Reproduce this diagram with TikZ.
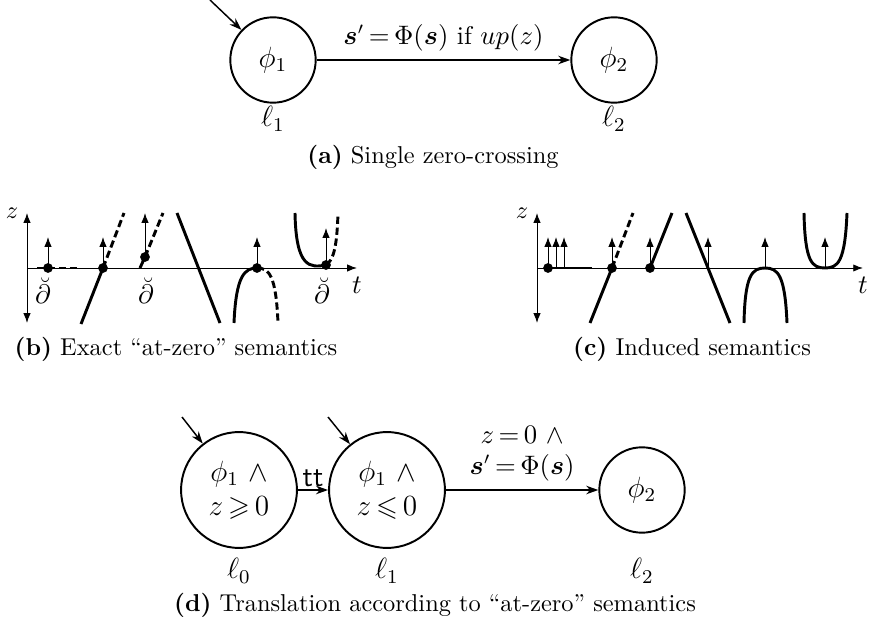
\documentclass[tikz,border=0pt]{standalone}
\usepackage{amsmath}
\usepackage{amssymb}
\usepackage{tikz}
\usetikzlibrary{arrows.meta, positioning}

\begin{document}
\begin{tikzpicture}[x=0.41pt, y=-0.41pt,
    state/.style={circle, draw, line width=0.8pt, minimum size=35pt, inner sep=0pt, font=\large},
    bigstate/.style={state, minimum size=47.5pt, align=center, font=\fontsize{11.5}{13}\selectfont},
    loc/.style={font=\large},
    lbl/.style={font=\fontsize{10.5}{12.5}\selectfont},
    edge/.style={-{Stealth[length=5pt, width=3.5pt]}, line width=0.6pt},
    curve/.style={line width=1.2pt},
    dcurve/.style={curve, dash pattern=on 3pt off 1.5pt},
    axis/.style={line width=0.4pt},
    up/.style={-{Latex[length=4pt, width=3pt]}, line width=0.4pt}]
    \useasboundingbox (0,0) rectangle (870,627);

    % (a) single zero-crossing
    \node[state] (a1) at (273,60) {$\phi_1$};
    \node[state] (a2) at (614,60) {$\phi_2$};
    \coordinate (a1in) at (210,0);
    \draw[edge] (a1in) -- (a1);
    \draw[edge] (a1) -- node[above, lbl] {$\boldsymbol{s}'\,{=}\,\Phi(\boldsymbol{s})$ if $up(z)$} (a2);
    \node[loc] (a1lab) at (273,119) {$\ell_1$};
    \node[loc] (a2lab) at (614,119) {$\ell_2$};
    \node (capa) at (433,157) {\textbf{(a)} Single zero-crossing};

    % (b) exact semantics
    \draw[axis, {Latex[length=4pt, width=3pt]}-{Latex[length=4pt, width=3pt]}] (27,323) -- (27,213) node[left] {$z$};
    \draw[axis, -{Latex[length=4pt, width=3pt]}] (27,268) -- (357,268) node[below, lbl] {$t$};
    \draw[dcurve] (37,268) -- (80,268);
    \fill (48,268) circle (2pt);
    \draw[up] (48,268) -- (48,237);
    \node[lbl] at (43,291) {$\breve{\partial}$};
    \draw[curve] (81,324) -- (103,268);
    \draw[dcurve] (103,268) -- (124,213);
    \fill (103,268) circle (2pt);
    \draw[up] (103,268) -- (103,237);
    \draw[curve] (140,268) -- (145,257);
    \draw[dcurve] (145,257) -- (163,213);
    \fill (145,257) circle (2pt);
    \draw[up] (145,257) -- (145,213);
    \node[lbl] at (146,291) {$\breve{\partial}$};
    \draw[curve] (177,213) -- (220,323);
    \draw[curve] (234,323) .. controls (236,275) and (245,268) .. (257,268);
    \draw[dcurve] (257,268) .. controls (269,268) and (276,275) .. (278,323);
    \fill (257,268) circle (2pt);
    \draw[up] (257,268) -- (257,237);
    \draw[curve] (295,213) .. controls (296,268) and (310,268) .. (326,265);
    \draw[dcurve] (326,265) .. controls (334,260) and (337,245) .. (338,213);
    \fill (326,265) circle (2pt);
    \draw[up] (326,265) -- (326,228);
    \node[lbl] at (322,291) {$\breve{\partial}$};
    \node (capb) at (176,349) {\textbf{(b)} Exact ``at-zero'' semantics};

    % (c) induced semantics
    \draw[axis, {Latex[length=4pt, width=3pt]}-{Latex[length=4pt, width=3pt]}] (537,323) -- (537,213) node[left] {$z$};
    \draw[axis, -{Latex[length=4pt, width=3pt]}] (537,268) -- (863,268) node[below, lbl] {$t$};
    \draw[curve] (548,268) -- (592,268);
    \fill (548,268) circle (2pt);
    \foreach \x in {548,556,564}
        \draw[up] (\x,268) -- (\x,237);
    \draw[curve] (590,323) -- (612,268);
    \draw[dcurve] (612,268) -- (633,213);
    \fill (612,268) circle (2pt);
    \draw[up] (612,268) -- (612,237);
    \draw[curve] (650,268) -- (672,213);
    \fill (650,268) circle (2pt);
    \draw[up] (650,268) -- (650,237);
    \draw[curve] (686,213) -- (730,323);
    \draw[up] (708,268) -- (708,237);
    \draw[curve] (744,323) .. controls (745,275) and (752,268) .. (765,268)
        .. controls (778,268) and (785,275) .. (787,323);
    \draw[up] (765,268) -- (765,237);
    \draw[curve] (804,213) .. controls (805,262) and (812,268) .. (825,268)
        .. controls (838,268) and (845,262) .. (847,213);
    \draw[up] (825,268) -- (825,237);
    \node (capc) at (692,349) {\textbf{(c)} Induced semantics};

    % (d) translation
    \node[bigstate] (d0) at (239,490) {$\phi_1\ \wedge$\\[1pt]$z\,{\geqslant}\,0$};
    \node[bigstate] (d1) at (387,490) {$\phi_1\ \wedge$\\[1pt]$z\,{\leqslant}\,0$};
    \node[state] (d2) at (642,490) {$\phi_2$};
    \coordinate (d0in) at (182,417);
    \coordinate (d1in) at (328,417);
    \draw[edge] (d0in) -- (d0);
    \draw[edge] (d1in) -- (d1);
    \draw[edge] (d0) -- node[above, inner sep=1pt, font=\large] {\textsf{tt}} (d1);
    \draw[edge] (d1) -- node[above, align=center, lbl] {$z\,{=}\,0\ \wedge$\\$\boldsymbol{s}'\,{=}\,\Phi(\boldsymbol{s})$} (d2);
    \node[loc] (d0lab) at (239,571) {$\ell_0$};
    \node[loc] (d1lab) at (387,571) {$\ell_1$};
    \node[loc] (d2lab) at (642,571) {$\ell_2$};
    \node (capd) at (435,605) {\textbf{(d)} Translation according to ``at-zero'' semantics};
\end{tikzpicture}
\end{document}
